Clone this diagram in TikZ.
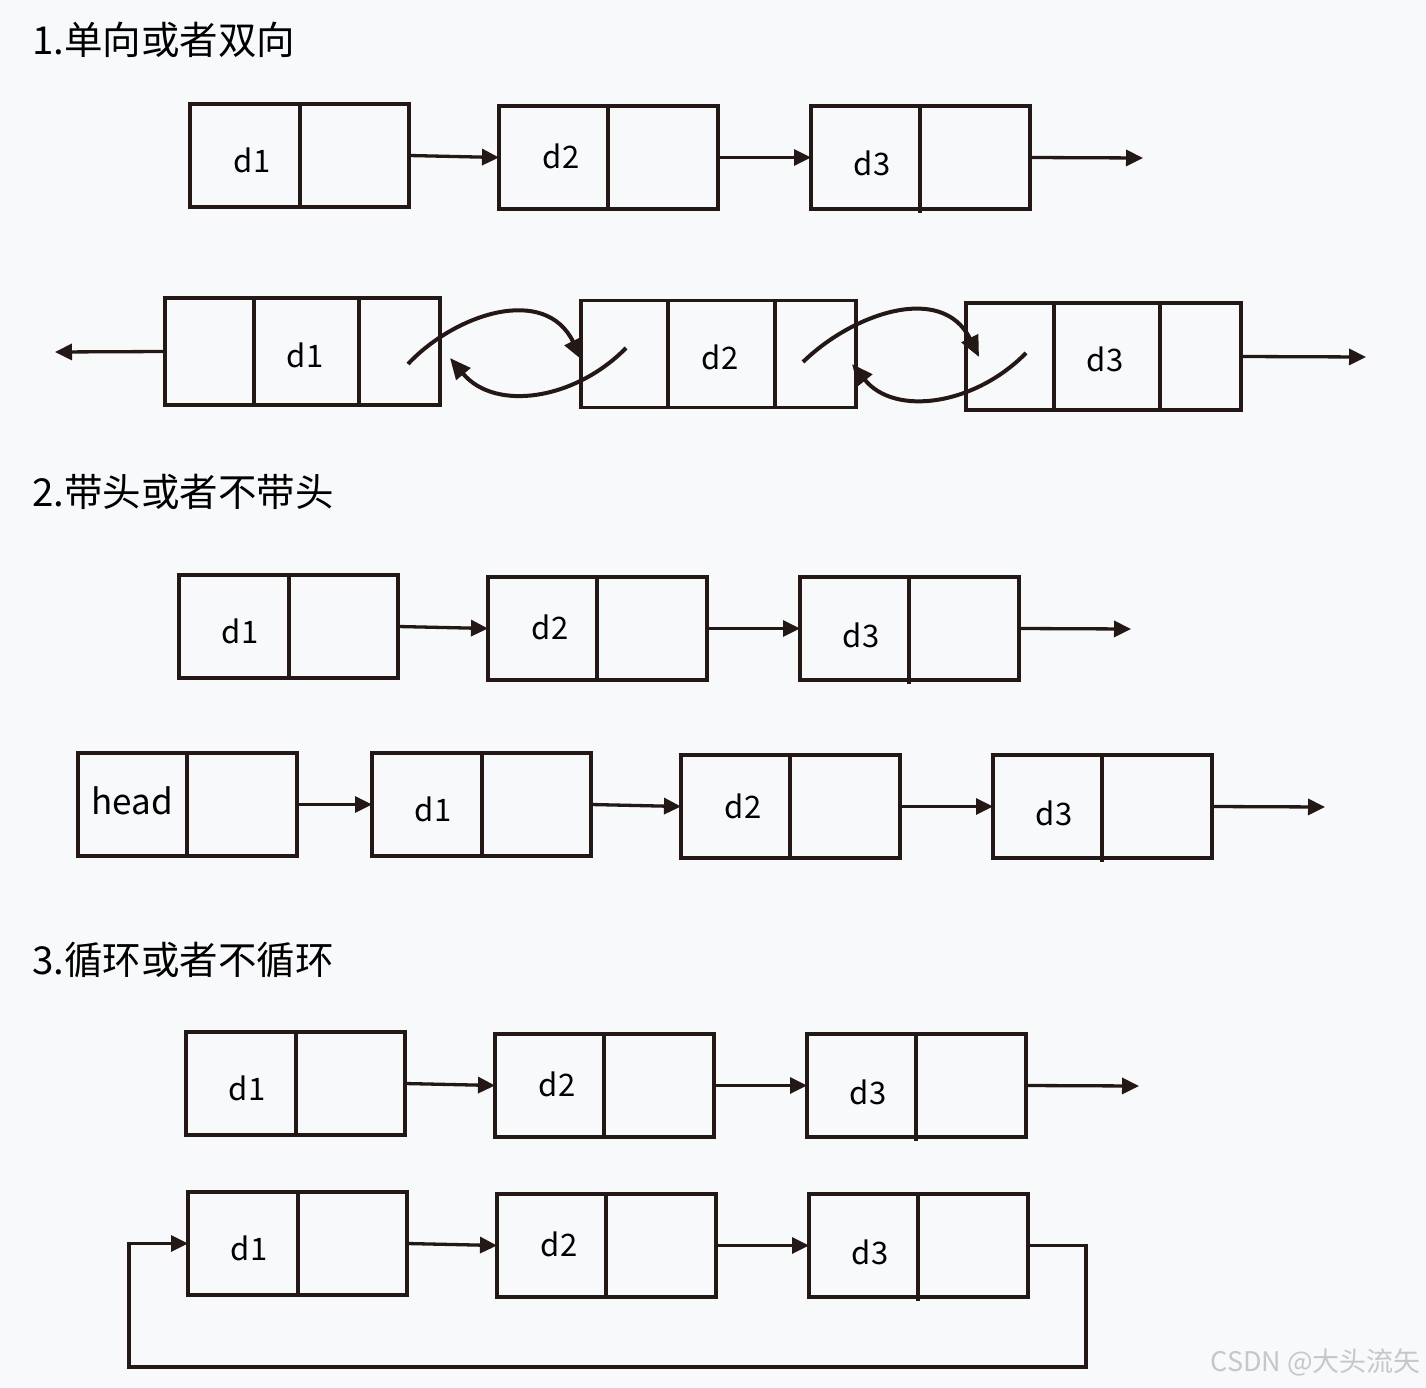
\documentclass[tikz,border=0pt]{standalone}
\usepackage{fontspec}
\setmainfont{Noto Sans CJK SC}
\usetikzlibrary{arrows.meta,calc}
\definecolor{ink}{HTML}{231815}
\definecolor{bg}{HTML}{F8F9FB}
\begin{document}
\begin{tikzpicture}[x=1pt,y=-1pt,
  cellbox/.style={draw=ink,line width=3.3pt,minimum width=219pt,minimum height=103pt,inner sep=0pt,outer sep=0pt},
  dbox/.style={draw=ink,line width=3.3pt,minimum width=275pt,minimum height=107pt,inner sep=0pt,outer sep=0pt},
  sep/.style={draw=ink,line width=3.3pt},
  lbl/.style={font=\fontsize{31}{31}\selectfont,text=black,inner sep=0pt},
  ttl/.style={font=\fontsize{38.5}{38.5}\selectfont,text=black,inner sep=0pt,anchor=west},
  arr/.style={draw=ink,line width=3.3pt,-{Triangle[length=17pt,width=16pt]}},
  curv/.style={draw=ink,line width=4pt,-{Triangle[length=21pt,width=18pt]}}]
\useasboundingbox[fill=bg] (0,0) rectangle (1426,1388);

% ---------- Section 1 ----------
\node[ttl] (t1) at (32,40) {1.单向或者双向};

\node[cellbox] (a1) at (299.5,155.5) {};
\node[cellbox] (a2) at (608.5,157.5) {};
\node[cellbox] (a3) at (920.5,157.5) {};
\draw[sep] ($(a1.north west)+(110,0)$) -- ($(a1.south west)+(110,0)$);
\draw[sep] ($(a2.north west)+(109,0)$) -- ($(a2.south west)+(109,0)$);
\draw[sep] ($(a3.north west)+(109,0)$) -- ($(a3.south west)+(109,4)$);
\node[lbl] (la1) at (252,160) {d1};
\node[lbl] (la2) at (561,156) {d2};
\node[lbl] (la3) at (872,163) {d3};
\coordinate (ae) at (1143,158);
\draw[arr] (a1.east) -- (a2.west);
\draw[arr] (a2.east) -- (a3.west);
\draw[arr] (a3.east) -- (ae);

% doubly linked
\node[dbox] (b1) at (302.5,351.5) {};
\node[dbox] (b2) at (718.5,354) {};
\node[dbox] (b3) at (1103.5,356.5) {};
\draw[sep] ($(b1.north west)+(89,0)$) -- ($(b1.south west)+(89,0)$);
\draw[sep] ($(b1.north west)+(194,0)$) -- ($(b1.south west)+(194,0)$);
\draw[sep] ($(b2.north west)+(87,0)$) -- ($(b2.south west)+(87,0)$);
\draw[sep] ($(b2.north west)+(194,0)$) -- ($(b2.south west)+(194,0)$);
\draw[sep] ($(b3.north west)+(88,0)$) -- ($(b3.south west)+(88,0)$);
\draw[sep] ($(b3.north west)+(194,0)$) -- ($(b3.south west)+(194,0)$);
\node[lbl] (lb1) at (305,355) {d1};
\node[lbl] (lb2) at (720,357) {d2};
\node[lbl] (lb3) at (1105,359) {d3};
\coordinate (bl) at (55,352);
\coordinate (br) at (1366,357);
\draw[arr] (b1.west) -- (bl);
\draw[arr] (b3.east) -- (br);
\coordinate (f1s) at (408,364);
\coordinate (f1e) at (582,360);
\coordinate (r1s) at (626,348);
\coordinate (r1e) at (450,358);
\coordinate (f2s) at (803,362);
\coordinate (f2e) at (979,357);
\coordinate (r2s) at (1026,353);
\coordinate (r2e) at (852,364);
\draw[curv] (f1s) .. controls (455,314) and (545,284) .. (f1e);
\draw[curv] (r1s) .. controls (575,400) and (495,412) .. (r1e);
\draw[curv] (f2s) .. controls (852,314) and (942,282) .. (f2e);
\draw[curv] (r2s) .. controls (975,405) and (895,417) .. (r2e);

% ---------- Section 2 ----------
\node[ttl] (t2) at (32,492) {2.带头或者不带头};

\node[cellbox] (c1) at (288.5,626.5) {};
\node[cellbox] (c2) at (597.5,628.5) {};
\node[cellbox] (c3) at (909.5,628.5) {};
\draw[sep] ($(c1.north west)+(110,0)$) -- ($(c1.south west)+(110,0)$);
\draw[sep] ($(c2.north west)+(109,0)$) -- ($(c2.south west)+(109,0)$);
\draw[sep] ($(c3.north west)+(109,0)$) -- ($(c3.south west)+(109,4)$);
\node[lbl] (lc1) at (240,631) {d1};
\node[lbl] (lc2) at (550,627) {d2};
\node[lbl] (lc3) at (861,635) {d3};
\coordinate (ce) at (1131,629);
\draw[arr] (c1.east) -- (c2.west);
\draw[arr] (c2.east) -- (c3.west);
\draw[arr] (c3.east) -- (ce);

\node[cellbox] (h0) at (187.5,804.5) {};
\node[cellbox] (h1) at (481.5,804.5) {};
\node[cellbox] (h2) at (790.5,806.5) {};
\node[cellbox] (h3) at (1102.5,806.5) {};
\draw[sep] ($(h0.north west)+(109,0)$) -- ($(h0.south west)+(109,0)$);
\draw[sep] ($(h1.north west)+(110,0)$) -- ($(h1.south west)+(110,0)$);
\draw[sep] ($(h2.north west)+(109,0)$) -- ($(h2.south west)+(109,0)$);
\draw[sep] ($(h3.north west)+(109,0)$) -- ($(h3.south west)+(109,4)$);
\node[lbl,font=\fontsize{35}{35}\selectfont] (lh0) at (132,801) {head};
\node[lbl] (lh1) at (433,809) {d1};
\node[lbl] (lh2) at (743,806) {d2};
\node[lbl] (lh3) at (1054,813) {d3};
\coordinate (he) at (1325,807);
\draw[arr] (h0.east) -- (h1.west);
\draw[arr] (h1.east) -- (h2.west);
\draw[arr] (h2.east) -- (h3.west);
\draw[arr] (h3.east) -- (he);

% ---------- Section 3 ----------
\node[ttl] (t3) at (32,960) {3.循环或者不循环};

\node[cellbox] (e1) at (295.5,1083.5) {};
\node[cellbox] (e2) at (604.5,1085.5) {};
\node[cellbox] (e3) at (916.5,1085.5) {};
\draw[sep] ($(e1.north west)+(110,0)$) -- ($(e1.south west)+(110,0)$);
\draw[sep] ($(e2.north west)+(109,0)$) -- ($(e2.south west)+(109,0)$);
\draw[sep] ($(e3.north west)+(109,0)$) -- ($(e3.south west)+(109,4)$);
\node[lbl] (le1) at (247,1088) {d1};
\node[lbl] (le2) at (557,1084) {d2};
\node[lbl] (le3) at (868,1092) {d3};
\coordinate (ee) at (1139,1086);
\draw[arr] (e1.east) -- (e2.west);
\draw[arr] (e2.east) -- (e3.west);
\draw[arr] (e3.east) -- (ee);

\node[cellbox] (g1) at (297.5,1243.5) {};
\node[cellbox] (g2) at (606.5,1245.5) {};
\node[cellbox] (g3) at (918.5,1245.5) {};
\draw[sep] ($(g1.north west)+(110,0)$) -- ($(g1.south west)+(110,0)$);
\draw[sep] ($(g2.north west)+(109,0)$) -- ($(g2.south west)+(109,0)$);
\draw[sep] ($(g3.north west)+(109,0)$) -- ($(g3.south west)+(109,4)$);
\node[lbl] (lg1) at (249,1248) {d1};
\node[lbl] (lg2) at (559,1244) {d2};
\node[lbl] (lg3) at (870,1252) {d3};
\draw[arr] (g1.east) -- (g2.west);
\draw[arr] (g2.east) -- (g3.west);
\coordinate (k1) at (1086,1367);
\coordinate (k2) at (129,1367);
\draw[arr] (g3.east) -| (k1) -- (k2) |- (g1.west);

% watermark
\node[font=\fontsize{27}{27}\selectfont,text=black!22,inner sep=0pt,anchor=east] (wm) at (1421,1362) {CSDN @大头流矢};
\end{tikzpicture}
\end{document}
